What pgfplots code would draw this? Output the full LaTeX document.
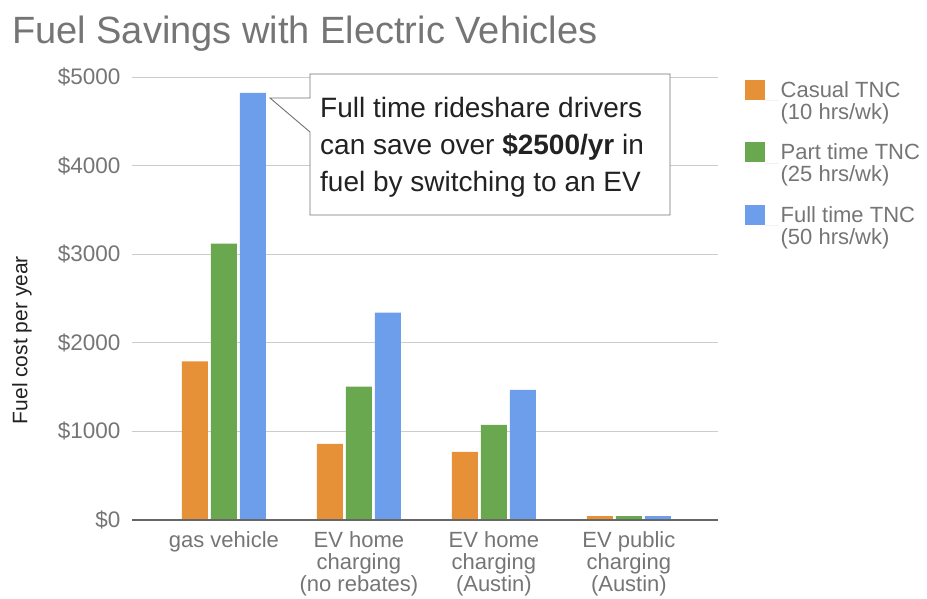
\documentclass[border=0pt]{standalone}
\usepackage{fontspec}
\setmainfont{Liberation Sans}
\usepackage{pgfplots}
\pgfplotsset{compat=1.18}
\definecolor{corange}{HTML}{E69138}
\definecolor{cgreen}{HTML}{6AA84F}
\definecolor{cblue}{HTML}{6D9EEB}
\definecolor{cgray}{HTML}{757575}
\definecolor{cdark}{HTML}{222222}
\begin{document}
\begin{tikzpicture}[x=1pt,y=1pt]
\useasboundingbox (-132,-78) rectangle (795,520);
\begin{axis}[at={(0,0)}, anchor=south west, scale only axis,
  width=586pt, height=443pt,
  xmin=-0.681, xmax=3.66, ymin=0, ymax=5000,
  ybar=3pt, bar width=26pt,
  axis line style={draw=none}, major tick length=0pt,
  ytick={0,1000,2000,3000,4000,5000},
  yticklabels={\$0,\$1000,\$2000,\$3000,\$4000,\$5000},
  yticklabel style={font=\fontsize{22.5}{24}\selectfont, text=cgray, xshift=-8pt},
  ymajorgrids, grid style={draw=black!20, line width=0.9pt},
  xtick={0,1,2,3},
  xticklabels={gas vehicle, EV home\\charging\\(no rebates), EV home\\charging\\(Austin), EV public\\charging\\(Austin)},
  xticklabel style={align=center, font=\fontsize{22}{22}\selectfont, text=cgray, yshift=-8pt},
  ylabel={Fuel cost per year},
  ylabel style={at={(axis description cs:-0.1877,0.406)}, anchor=center,
    font=\fontsize{21}{22}\selectfont, text=cdark},
  legend style={at={(rel axis cs:1.04,1.0)}, anchor=north west, draw=none, fill=none,
    font=\fontsize{22}{22}\selectfont, text=cgray, row sep=19pt,
    nodes={align=left}},
  legend cell align=left,
  legend image code/.code={\fill[#1] (0pt,1pt) rectangle (20pt,21pt); \path (20pt,0pt) -- (34pt,0pt);},
]
\addplot[fill=corange, draw=none] coordinates {(0,1790) (1,860) (2,770) (3,45)};
\addplot[fill=cgreen, draw=none] coordinates {(0,3120) (1,1505) (2,1075) (3,45)};
\addplot[fill=cblue, draw=none] coordinates {(0,4820) (1,2340) (2,1470) (3,45)};
\addlegendentry{Casual TNC\\(10 hrs/wk)}
\addlegendentry{Part time TNC\\(25 hrs/wk)}
\addlegendentry{Full time TNC\\(50 hrs/wk)}
\draw[draw=black!60, line width=1.4pt] (rel axis cs:0,0) -- (rel axis cs:1,0);
\end{axis}
\draw[fill=white, draw=black!55, line width=0.9pt]
  (178,446) -- (538,446) -- (538,305) -- (178,305) -- (178,388) -- (138,422) -- (178,422) -- cycle;
\node[anchor=west, align=left, inner sep=0pt, text=cdark, font=\fontsize{28}{37}\selectfont] at (188,373)
  {Full time rideshare drivers\\can save over \textbf{\$2500/yr} in\\fuel by switching to an EV};
\node[anchor=base west, inner sep=0pt, text=cgray, font=\fontsize{38}{40}\selectfont] at (-120,476)
  {Fuel Savings with Electric Vehicles};
\end{tikzpicture}
\end{document}
